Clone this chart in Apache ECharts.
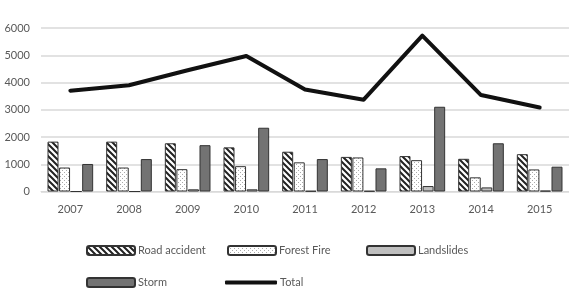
<!DOCTYPE html>
<html><head><meta charset="utf-8">
<script src="https://cdn.jsdelivr.net/npm/echarts@6/dist/echarts.min.js"></script>
<style>html,body{margin:0;padding:0;background:#fff}#c{width:569px;height:291px}</style>
</head><body><div id="c"></div>
<script>
const years = ['2007','2008','2009','2010','2011','2012','2013','2014','2015'];
const roadAccident = [1830, 1830, 1770, 1620, 1460, 1270, 1300, 1200, 1370];
const forestFire   = [880, 880, 820, 930, 1070, 1250, 1150, 520, 810];
const landslides   = [0, 0, 80, 80, 20, 20, 200, 150, 30];
const storm        = [1010, 1190, 1700, 2340, 1190, 850, 3110, 1770, 910];
const total        = [3700, 3900, 4450, 4970, 3740, 3370, 5720, 3540, 3080];
const yTicks = [0, 1000, 2000, 3000, 4000, 5000, 6000];

function hatch(){
  const c = document.createElement('canvas'); c.width = 6; c.height = 6;
  const g = c.getContext('2d');
  g.fillStyle = '#fff'; g.fillRect(0,0,6,6);
  g.strokeStyle = '#222'; g.lineWidth = 2;
  g.beginPath();
  g.moveTo(-1,-1); g.lineTo(7,7);
  g.moveTo(-4,2); g.lineTo(4,10);
  g.moveTo(2,-4); g.lineTo(10,4);
  g.stroke();
  return c;
}
function dots(){
  const c = document.createElement('canvas'); c.width = 4; c.height = 4;
  const g = c.getContext('2d');
  g.fillStyle = '#fff'; g.fillRect(0,0,4,4);
  g.fillStyle = '#aaa'; g.fillRect(0,0,1,1); g.fillRect(2,2,1,1);
  return c;
}
const hatchPat = {image: hatch(), repeat: 'repeat'};
const dotPat = {image: dots(), repeat: 'repeat'};
const font = 'Lato, "Open Sans", sans-serif';
const border = '#333';

function legend(name, left, top, h, icon){
  const d = icon ? [{name:name, icon:icon}] : [name];
  return {data:d, left:left, top:top, itemWidth:h ? 52 : 48, itemHeight:h || 9, itemGap:0,
    textStyle:{color:'#595959', fontSize:11, fontFamily:font, padding:[0,0,0,-2]}, padding:0};
}

const chart = echarts.init(document.getElementById('c'));
chart.setOption({
  animation:false,
  grid:{left:41, top:28, width:529, height:163.5, containLabel:false},
  legend:[
    legend('Road accident', 86, 245),
    legend('Forest Fire', 227, 245),
    legend('Landslides', 366, 245),
    legend('Storm', 86, 277),
    legend('Total', 225, 277, 4, 'roundRect')
  ],
  xAxis:{type:'category', data:years,
    axisLine:{lineStyle:{color:'#d9d9d9', width:1}},
    axisTick:{show:false},
    axisLabel:{color:'#595959', fontSize:11, fontFamily:font, margin:12}},
  yAxis:{type:'value', min:yTicks[0], max:yTicks[yTicks.length-1], interval:1000,
    axisLine:{show:false}, axisTick:{show:false},
    splitLine:{lineStyle:{color:'#d9d9d9', width:1.5}},
    axisLabel:{color:'#595959', fontSize:11, fontFamily:font, margin:11, formatter:function(v){return String(v);}}},
  series:[
    {name:'Road accident', type:'bar', data:roadAccident, barWidth:11, barGap:'5%', barCategoryGap:'25%',
      itemStyle:{color:hatchPat, borderColor:border, borderWidth:1}},
    {name:'Forest Fire', type:'bar', data:forestFire, barWidth:11, barGap:'5%',
      itemStyle:{color:dotPat, borderColor:border, borderWidth:1}},
    {name:'Landslides', type:'bar', data:landslides, barWidth:11, barGap:'5%',
      itemStyle:{color:'#bfbfbf', borderColor:border, borderWidth:1}},
    {name:'Storm', type:'bar', data:storm, barWidth:11, barGap:'5%',
      itemStyle:{color:'#737373', borderColor:border, borderWidth:1}},
    {name:'Total', type:'line', data:total, symbol:'none', z:5,
      lineStyle:{color:'#111', width:4, join:'round', cap:'round'}, itemStyle:{color:'#111'}}
  ]
});
</script></body></html>
